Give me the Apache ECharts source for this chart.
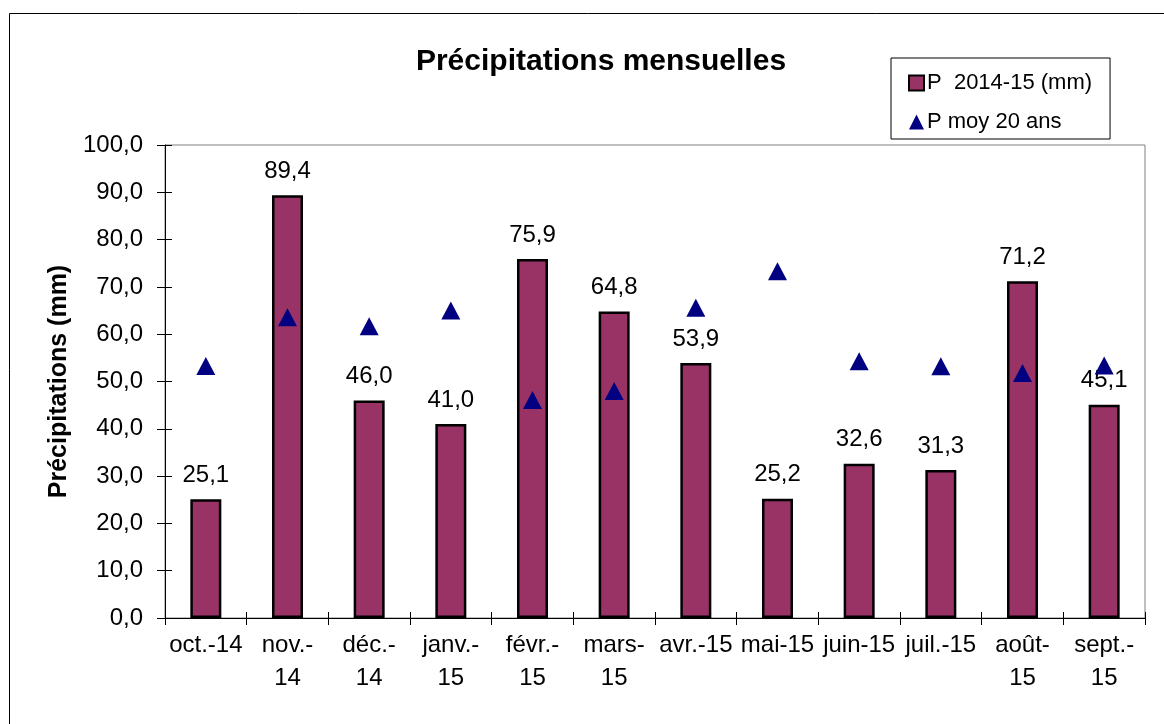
<!DOCTYPE html>
<html><head><meta charset="utf-8">
<script src="https://cdn.jsdelivr.net/npm/echarts@6/dist/echarts.min.js"></script>
<style>html,body{margin:0;padding:0;background:#fff}#c{width:1164px;height:724px}</style>
</head><body><div id="c"></div>
<script>
const categories = ['oct.-14','nov.-14','déc.-14','janv.-15','févr.-15','mars-15','avr.-15','mai-15','juin-15','juil.-15','août-15','sept.-15'];
const tickLabels = ['oct.-14','nov.-\n14','déc.-\n14','janv.-\n15','févr.-\n15','mars-\n15','avr.-15','mai-15','juin-15','juil.-15','août-\n15','sept.-\n15'];
const precip2014 = [25.1, 89.4, 46.0, 41.0, 75.9, 64.8, 53.9, 25.2, 32.6, 31.3, 71.2, 45.1];
const precipMoy20 = [53.3, 63.6, 61.7, 65.0, 46.1, 48.0, 65.6, 73.3, 54.3, 53.2, 51.8, 53.4];
const yTicks = {min: 0, max: 100, interval: 10};

const font = 'Liberation Sans, Arial, sans-serif';
const chart = echarts.init(document.getElementById('c'));
chart.setOption({
  animation: false,
  backgroundColor: '#fff',
  title: {text: 'Précipitations mensuelles', left: 596, top: 42, textAlign: 'center',
    textStyle: {fontFamily: font, fontSize: 30, fontWeight: 'bold', color: '#000'}},
  graphic: [{type: 'rect', shape: {x: 9.5, y: 13.5, width: 1300, height: 800},
    style: {fill: 'none', stroke: '#000', lineWidth: 1}, z: -1}],
  legend: {
    orient: 'vertical', left: 891, top: 58, width: 220,
    padding: [13, 18, 5, 17], itemGap: 15, itemWidth: 15, itemHeight: 15,
    borderColor: '#000', borderWidth: 1,
    textStyle: {fontFamily: font, fontSize: 22, color: '#000', padding: [0, 0, 0, -2], lineHeight: 24},
    data: [
      {name: 'P  2014-15 (mm)', icon: 'rect', itemStyle: {color: '#993366', borderColor: '#000', borderWidth: 2}},
      {name: 'P moy 20 ans', icon: 'triangle', itemStyle: {color: '#000080', opacity: 1}}
    ]
  },
  grid: {left: 165, right: 19, top: 145, bottom: 106, show: true, borderColor: '#808080', borderWidth: 1, containLabel: false},
  xAxis: [{type: 'category', data: categories,
    axisLine: {lineStyle: {color: '#000', width: 1}},
    axisTick: {show: true, length: 7, lineStyle: {color: '#000'}},
    axisLabel: {interval: 0, fontFamily: font, fontSize: 24, color: '#000', margin: 11, lineHeight: 33,
      formatter: (v, i) => tickLabels[i]}},
   {type: 'category', data: categories, position: 'bottom',
    axisLine: {show: false}, axisLabel: {show: false},
    axisTick: {show: true, inside: true, length: 6, lineStyle: {color: '#000'}}}],
  yAxis: [{type: 'value', min: yTicks.min, max: yTicks.max, interval: yTicks.interval,
    name: 'Précipitations (mm)', nameLocation: 'middle', nameGap: 90, nameRotate: 90,
    nameTextStyle: {fontFamily: font, fontSize: 25, fontWeight: 'bold', color: '#000'},
    splitLine: {show: false},
    axisLine: {show: true, lineStyle: {color: '#000'}},
    axisTick: {show: true, length: 8, lineStyle: {color: '#000'}},
    axisLabel: {fontFamily: font, fontSize: 24, color: '#000', margin: 22,
      formatter: v => v.toFixed(1).replace('.', ',')}},
   {type: 'value', min: yTicks.min, max: yTicks.max, interval: yTicks.interval, position: 'left',
    splitLine: {show: false}, axisLine: {show: false}, axisLabel: {show: false},
    axisTick: {show: true, inside: true, length: 7, lineStyle: {color: '#000'}}}],
  series: [
    {name: 'P  2014-15 (mm)', type: 'bar', data: precip2014, barWidth: 31,
      itemStyle: {color: '#993366', borderColor: '#000', borderWidth: 2.5},
      label: {show: true, position: 'top', distance: 12, fontFamily: font, fontSize: 24, color: '#000',
        formatter: p => p.value.toFixed(1).replace('.', ',')}},
    {name: 'P moy 20 ans', type: 'scatter', data: precipMoy20, symbol: 'triangle', symbolSize: [19, 18],
      itemStyle: {color: '#000080', opacity: 1}, z: 5}
  ]
});
</script></body></html>
